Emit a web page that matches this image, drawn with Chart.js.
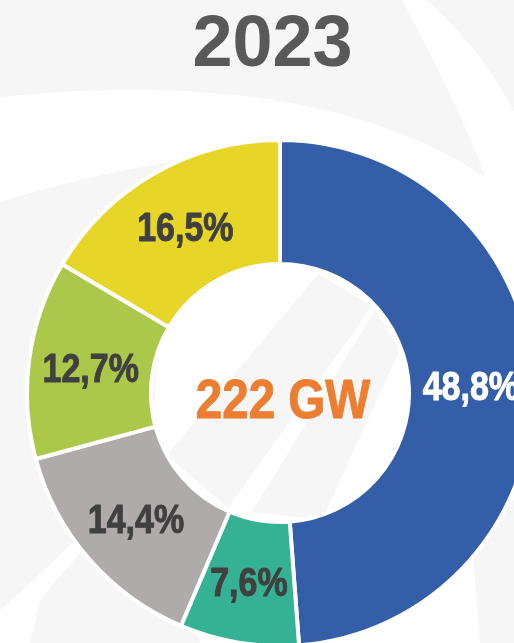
<!DOCTYPE html>
<html lang="pt">
<head>
<meta charset="utf-8">
<title>2023 — 222 GW</title>
<script src="https://cdn.jsdelivr.net/npm/chart.js@4.4.1/dist/chart.umd.min.js"></script>
<style>
  html, body { margin: 0; padding: 0; }
  body {
    width: 514px; height: 643px; overflow: hidden; position: relative;
    background: #ffffff;
  }
  #bg { position: absolute; left: 0; top: 0; }
  #title {
    position: absolute; left: 0; width: 545px; top: 5px;
    text-align: center;
    font: bold 72px/72px "Liberation Sans", Arial, sans-serif;
    color: #595959;
  }
  #donut { position: absolute; left: 25px; top: 138px; }
</style>
</head>
<body>
<!-- fond décoratif (tourbillon gris clair) -->
<svg id="bg" width="514" height="643" viewBox="0 0 514 643">
  <g fill="#f6f6f6">
    <path d="M0,0 L402,0 C432,55 462,115 486,178 C400,118 250,72 0,97 Z"/>
    <path d="M426,0 L514,0 L514,112 C492,70 462,30 426,0 Z"/>
    <path d="M0,202 C60,184 110,172 170,162 L150,470 L0,470 Z"/>
    <path d="M0,470 L150,470 L12,600 L0,610 Z"/>
    <path d="M40,600 L150,470 L200,643 L30,643 Z"/>
    <path d="M167,455 L318,274 L372,306 L228,508 Z"/>
    <path d="M252,512 L375,310 L400,350 L322,520 Z"/>
    <path d="M470,520 L514,500 L514,643 L480,643 Z"/>
  </g>
</svg>

<div id="title">2023</div>
<canvas id="donut" width="510" height="510"></canvas>

<script>
// ─── Données ─────────────────────────────────────────────────
const labels = ["Azul", "Verde-água", "Cinza", "Verde", "Amarelo"];
const shares = [48.8, 7.6, 14.4, 12.7, 16.5];
const colors = ["#345ea8", "#35b294", "#afabaa", "#abc84a", "#e7d627"];
const labelColors = ["#ffffff", "#404040", "#404040", "#404040", "#404040"];
const totalText = "222 GW";

// police étroite simulée : Liberation Sans gras, compressé horizontalement
const NARROW = 0.85;
const LABEL_PX = 40;
const CENTER_PX = 56;

const fmt = v => v.toFixed(1).replace(".", ",") + "%";

function narrowText(ctx, text, x, y, px, color) {
  ctx.save();
  ctx.font = `bold ${px}px "Liberation Sans", Arial, sans-serif`;
  ctx.fillStyle = color;
  ctx.strokeStyle = color;
  ctx.lineWidth = 1;
  ctx.lineJoin = "round";
  ctx.textAlign = "center";
  ctx.textBaseline = "alphabetic";
  ctx.translate(x, y + px * 0.358);   // centre vertical sur la hauteur des capitales
  ctx.scale(NARROW, 1);
  ctx.fillText(text, 0, 0);
  ctx.strokeText(text, 0, 0);         // un peu plus gras, comme l'original
  ctx.restore();
}

// ─── Plugin : étiquettes + texte central ─────────────────────
const donutLabels = {
  id: "donutLabels",
  afterDatasetsDraw(chart) {
    const { ctx } = chart;
    const meta = chart.getDatasetMeta(0);
    meta.data.forEach((arc, i) => {
      const pos = arc.tooltipPosition();
      narrowText(ctx, fmt(shares[i]), pos.x, pos.y, LABEL_PX, labelColors[i]);
    });
    const c = meta.data[0];
    narrowText(ctx, totalText, c.x + 3, c.y + 5, CENTER_PX, "#ed7d31");
  }
};

new Chart(document.getElementById("donut"), {
  type: "doughnut",
  data: {
    labels,
    datasets: [{
      data: shares,
      backgroundColor: colors,
      borderColor: "#ffffff",
      borderWidth: 4,
      hoverOffset: 0,
    }]
  },
  options: {
    responsive: false,
    animation: false,
    cutout: "51%",
    layout: { padding: 0 },
    plugins: {
      legend: { display: false },
      tooltip: { enabled: false },
    }
  },
  plugins: [donutLabels]
});
</script>
</body>
</html>
